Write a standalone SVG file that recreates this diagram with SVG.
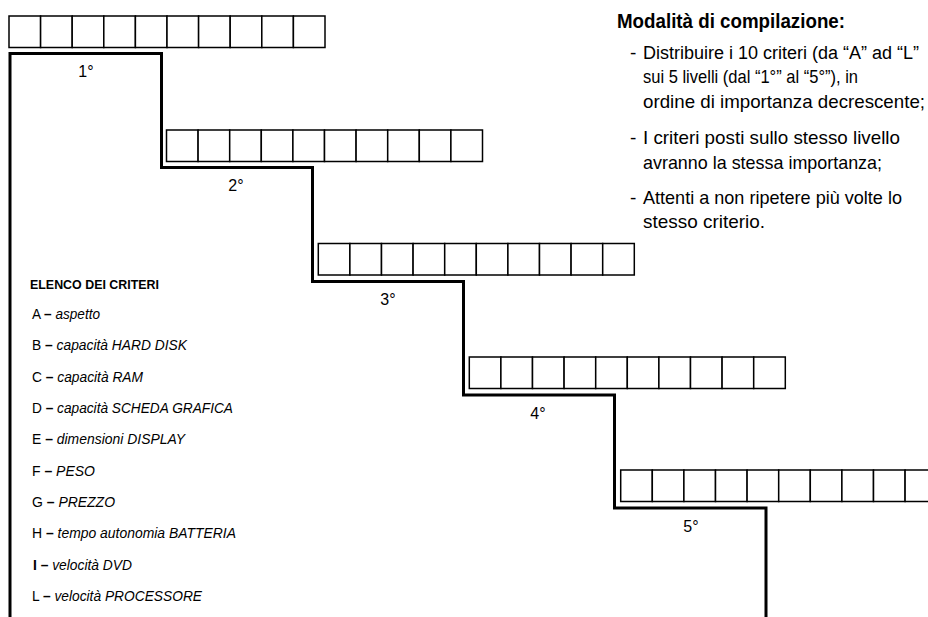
<svg xmlns="http://www.w3.org/2000/svg" xmlns:xlink="http://www.w3.org/1999/xlink" width="928" height="617" viewBox="0 0 928 617">
<style>
  .cell{fill:#fff;stroke:#000;stroke-width:1.5}
  .stair{fill:none;stroke:#000;stroke-width:3;stroke-linejoin:miter}
  .lvl{font-family:"Liberation Sans",Arial,sans-serif;font-size:16px;fill:#000;text-anchor:middle}
  .t{font-family:"Liberation Sans",Arial,sans-serif;font-size:19px;fill:#000}
  .h{font-family:"Liberation Sans",Arial,sans-serif;font-size:20px;font-weight:bold;fill:#000}
  .lh{font-family:"Liberation Sans",Arial,sans-serif;font-size:12px;font-weight:bold;fill:#000}
  .li{font-family:"Liberation Sans",Arial,sans-serif;font-size:14.5px;fill:#000}
  .b{font-weight:bold}
  .i{font-style:italic}
</style>
<defs>
  <g id="row">
    <rect class="cell" x="0" y="0" width="31.6" height="31.5"/>
    <rect class="cell" x="31.6" y="0" width="31.6" height="31.5"/>
    <rect class="cell" x="63.2" y="0" width="31.6" height="31.5"/>
    <rect class="cell" x="94.8" y="0" width="31.6" height="31.5"/>
    <rect class="cell" x="126.4" y="0" width="31.6" height="31.5"/>
    <rect class="cell" x="158" y="0" width="31.6" height="31.5"/>
    <rect class="cell" x="189.6" y="0" width="31.6" height="31.5"/>
    <rect class="cell" x="221.2" y="0" width="31.6" height="31.5"/>
    <rect class="cell" x="252.8" y="0" width="31.6" height="31.5"/>
    <rect class="cell" x="284.4" y="0" width="31.6" height="31.5"/>
  </g>
</defs>
<rect x="0" y="0" width="928" height="617" fill="#fff"/>
<g id="connectors">
  <path class="stair" d="M10,617 V53.5 H161.5 V167.5 H312.5 V281.5 H463.5 V395 H614.5 V508 H766 V617"/>
</g>
<g id="level1">
  <use xlink:href="#row" href="#row" x="9" y="16"/>
  <text class="lvl" x="86" y="77">1°</text>
</g>
<g id="level2">
  <use xlink:href="#row" href="#row" x="166.5" y="130"/>
  <text class="lvl" x="236" y="191">2°</text>
</g>
<g id="level3">
  <use xlink:href="#row" href="#row" x="318.3" y="243.5"/>
  <text class="lvl" x="388" y="305">3°</text>
</g>
<g id="level4">
  <use xlink:href="#row" href="#row" x="469.3" y="357"/>
  <text class="lvl" x="538" y="419">4°</text>
</g>
<g id="level5">
  <use xlink:href="#row" href="#row" x="620.7" y="470"/>
  <text class="lvl" x="691" y="532">5°</text>
</g>
<g id="instructions">
  <text class="h" x="617" y="28" textLength="228" lengthAdjust="spacingAndGlyphs">Modalità di compilazione:</text>
  <text class="t" x="630" y="59">-</text>
  <text class="t" x="643" y="59" style="font-size:18px">Distribuire i 10 criteri (da “A” ad “L”</text>
  <text class="t" x="643" y="83" textLength="215" lengthAdjust="spacingAndGlyphs">sui 5 livelli (dal “1°” al “5°”),  in</text>
  <text class="t" x="643" y="107.5" textLength="282" lengthAdjust="spacingAndGlyphs">ordine di importanza decrescente;</text>
  <text class="t" x="630" y="144">-</text>
  <text class="t" x="643" y="144" textLength="257" lengthAdjust="spacingAndGlyphs">I criteri posti sullo stesso livello</text>
  <text class="t" x="643" y="168.5" textLength="239" lengthAdjust="spacingAndGlyphs">avranno la stessa importanza;</text>
  <text class="t" x="630" y="204">-</text>
  <text class="t" x="643" y="204" textLength="259" lengthAdjust="spacingAndGlyphs">Attenti a non ripetere più volte lo</text>
  <text class="t" x="643" y="228" textLength="122" lengthAdjust="spacingAndGlyphs">stesso criterio.</text>
</g>
<g id="criteria">
  <text class="lh" x="30" y="289" textLength="129" lengthAdjust="spacingAndGlyphs">ELENCO DEI CRITERI</text>
  <text class="li" x="32" y="319" textLength="68" lengthAdjust="spacingAndGlyphs">A <tspan class="b">–</tspan> <tspan class="i">aspetto</tspan></text>
  <text class="li" x="32" y="350" textLength="155" lengthAdjust="spacingAndGlyphs">B <tspan class="b">–</tspan> <tspan class="i">capacità HARD DISK</tspan></text>
  <text class="li" x="32" y="381.5" textLength="111" lengthAdjust="spacingAndGlyphs">C <tspan class="b">–</tspan> <tspan class="i">capacità RAM</tspan></text>
  <text class="li" x="32" y="413" textLength="201" lengthAdjust="spacingAndGlyphs">D <tspan class="b">–</tspan> <tspan class="i">capacità SCHEDA GRAFICA</tspan></text>
  <text class="li" x="32" y="444" textLength="153" lengthAdjust="spacingAndGlyphs">E <tspan class="b">–</tspan> <tspan class="i">dimensioni DISPLAY</tspan></text>
  <text class="li" x="32" y="475.5" textLength="63" lengthAdjust="spacingAndGlyphs">F <tspan class="b">–</tspan> <tspan class="i">PESO</tspan></text>
  <text class="li" x="32" y="507" textLength="83" lengthAdjust="spacingAndGlyphs">G <tspan class="b">–</tspan> <tspan class="i">PREZZO</tspan></text>
  <text class="li" x="32" y="538" textLength="204" lengthAdjust="spacingAndGlyphs">H <tspan class="b">–</tspan> <tspan class="i">tempo autonomia BATTERIA</tspan></text>
  <text class="li" x="33" y="569.5" textLength="99" lengthAdjust="spacingAndGlyphs"><tspan class="b">I</tspan> <tspan class="b">–</tspan> <tspan class="i">velocità DVD</tspan></text>
  <text class="li" x="32" y="601" textLength="170" lengthAdjust="spacingAndGlyphs">L <tspan class="b">–</tspan> <tspan class="i">velocità PROCESSORE</tspan></text>
</g>
</svg>
